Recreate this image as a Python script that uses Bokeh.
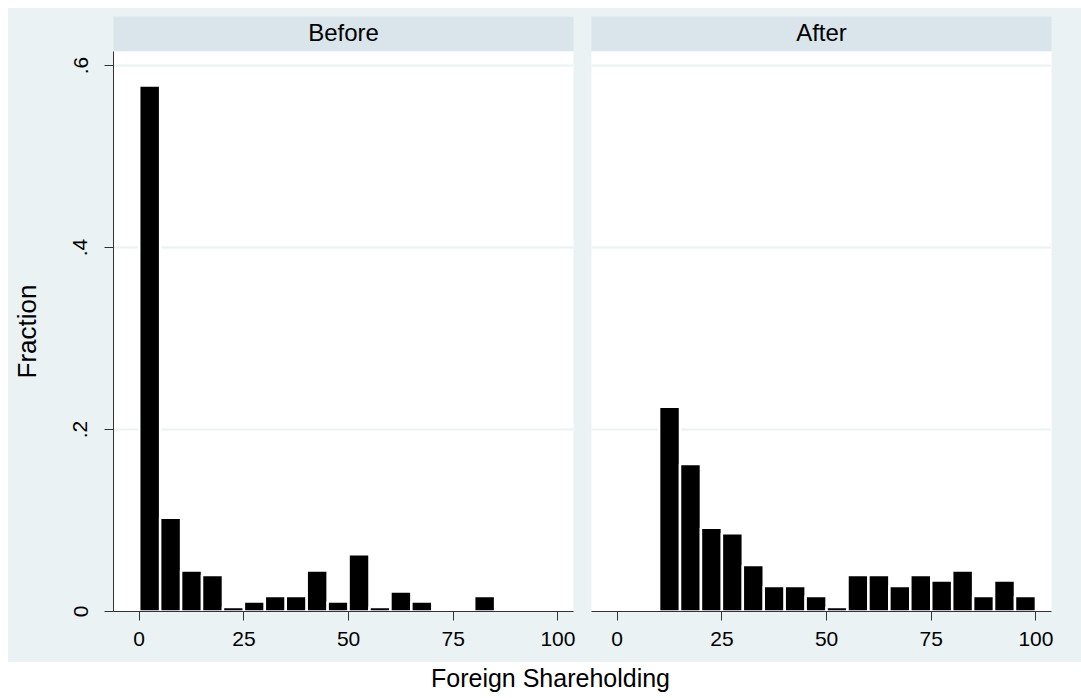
from bokeh.plotting import figure
from bokeh.models import Range1d, FixedTicker, Label
from bokeh.layouts import column, row
from bokeh.embed import file_html
from bokeh.resources import INLINE

# ---- data ----
panels = ["Before", "After"]
bin_width = 5
bin_left = [0, 5, 10, 15, 20, 25, 30, 35, 40, 45, 50, 55, 60, 65, 70, 75, 80, 85, 90, 95]
before_frac = [0.578, 0.103, 0.045, 0.040, 0.005, 0.011, 0.017, 0.017, 0.045, 0.011,
               0.063, 0.005, 0.022, 0.011, 0.0, 0.0, 0.017, 0.0, 0.0, 0.0]
after_frac = [0.0, 0.0, 0.225, 0.162, 0.092, 0.086, 0.051, 0.028, 0.028, 0.017,
              0.005, 0.040, 0.040, 0.028, 0.040, 0.034, 0.045, 0.017, 0.034, 0.017]
x_ticks = [0, 25, 50, 75, 100]
y_ticks = [0, 0.2, 0.4, 0.6]
y_tick_labels = ["0", ".2", ".4", ".6"]
x_title = "Foreign Shareholding"
y_title = "Fraction"

# ---- style ----
BG = "#eaf2f3"
STRIP = "#d9e5eb"
GRID = "#eaf2f3"
AXIS = "#333333"
FONT = "Liberation Sans"

X_RANGE = (-6.14, 103.72)
Y_RANGE = (0, 0.6154)


def strip(title, w, bl, br):
    s = figure(width=w, height=43, x_range=Range1d(0, 1), y_range=Range1d(0, 1),
               min_border_left=bl, min_border_right=br, min_border_top=8, min_border_bottom=0,
               background_fill_color=STRIP, border_fill_color=BG, outline_line_color=None,
               x_axis_location=None, y_axis_location=None, toolbar_location=None,
               output_backend="svg")
    s.grid.visible = False
    s.add_layout(Label(x=0.5, y=0.55, text=title, text_align="center", text_baseline="middle",
                       text_font=FONT, text_font_size="24px", text_color="black"))
    return s


def panel(values, w, bl, br, with_y):
    p = figure(width=w, height=611, x_range=Range1d(*X_RANGE), y_range=Range1d(*Y_RANGE),
               min_border_left=bl, min_border_right=br, min_border_top=0, min_border_bottom=51,
               background_fill_color="white", border_fill_color=BG, outline_line_color=None,
               y_axis_location="left" if with_y else None,
               toolbar_location=None, output_backend="svg")
    p.xgrid.visible = False
    p.ygrid.ticker = FixedTicker(ticks=y_ticks)
    p.ygrid.grid_line_color = GRID
    p.ygrid.grid_line_width = 2

    right = [b + bin_width for b in bin_left]
    p.quad(left=bin_left, right=right, top=values, bottom=0,
           fill_color="black", line_color="white", line_width=2.5)

    xa = p.xaxis[0]
    xa.ticker = FixedTicker(ticks=x_ticks)
    xa.major_tick_out = 9
    xa.major_tick_in = 0
    xa.minor_tick_line_color = None
    xa.axis_line_color = AXIS
    xa.major_tick_line_color = AXIS
    xa.major_label_text_font = FONT
    xa.major_label_text_font_size = "21px"
    xa.major_label_text_color = "black"
    xa.major_label_standoff = 11

    if with_y:
        ya = p.yaxis[0]
        ya.ticker = FixedTicker(ticks=y_ticks)
        ya.major_label_overrides = dict(zip(y_ticks, y_tick_labels))
        ya.major_label_orientation = "vertical"
        ya.major_tick_out = 9
        ya.major_tick_in = 0
        ya.minor_tick_line_color = None
        ya.axis_line_color = AXIS
        ya.major_tick_line_color = AXIS
        ya.major_label_text_font = FONT
        ya.major_label_text_font_size = "21px"
        ya.major_label_text_color = "black"
        ya.major_label_standoff = 17
        ya.axis_label = y_title
        ya.axis_label_text_font = FONT
        ya.axis_label_text_font_size = "26px"
        ya.axis_label_text_font_style = "normal"
        ya.axis_label_text_color = "black"
        ya.axis_label_standoff = 29
    return p


sL = strip(panels[0], 574, 105, 9)
sR = strip(panels[1], 499, 9, 30)
pL = panel(before_frac, 574, 105, 9, True)
pR = panel(after_frac, 499, 9, 30, False)

lab = figure(width=1073, height=36, x_range=Range1d(0, 1), y_range=Range1d(0, 1),
             min_border_left=11, min_border_right=0, min_border_top=0, min_border_bottom=0,
             background_fill_color="white", border_fill_color="white", outline_line_color=None,
             x_axis_location=None, y_axis_location=None, toolbar_location=None,
             output_backend="svg")
lab.grid.visible = False
lab.add_layout(Label(x=0.5, y=0.556, text=x_title, text_align="center", text_baseline="middle",
                     text_font=FONT, text_font_size="25px", text_color="black"))

top_row = row(sL, sR, styles={"background-color": BG})
main_row = row(pL, pR, styles={"background-color": BG})
layout = column(top_row, main_row, lab)
layout.margin = (8, 0, 0, 8)

open("out.html", "w").write(file_html(layout, INLINE))
